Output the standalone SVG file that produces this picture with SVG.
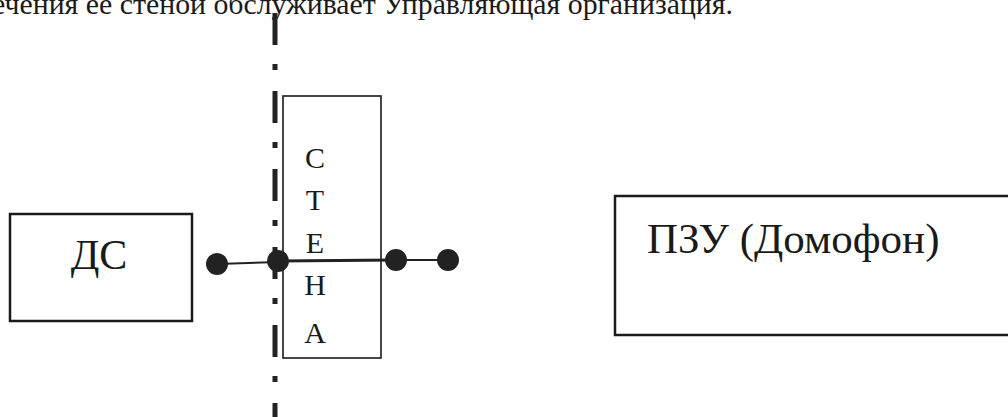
<svg xmlns="http://www.w3.org/2000/svg" width="1008" height="417" viewBox="0 0 1008 417">
<style>
.t{font-family:"Liberation Serif","Times New Roman","DejaVu Serif",serif;fill:#1a1a1a}
.box{fill:none;stroke:#1a1a1a}
.dot{fill:#222}
</style>
<rect width="1008" height="417" fill="#fff"/>
<text class="t" x="-8" y="14" font-size="30" textLength="741" lengthAdjust="spacingAndGlyphs">ечения ее стеной обслуживает Управляющая организация.</text>
<g id="axis">
<line x1="275" y1="13" x2="275" y2="417" stroke="#222" stroke-width="5" stroke-dasharray="32 19 6 21"/>
</g>
<g id="ds">
<rect class="box" x="10" y="214" width="182" height="107" stroke-width="2.5"/>
<text class="t" x="99" y="269" font-size="42" text-anchor="middle">ДС</text>
</g>
<g id="wall">
<rect class="box" x="283" y="96" width="98" height="262" stroke-width="1.6"/>
<g class="t" font-size="30" text-anchor="middle">
<text x="315" y="168">С</text>
<text x="315" y="210">Т</text>
<text x="315" y="253">Е</text>
<text x="315" y="295">Н</text>
<text x="315" y="343">А</text>
</g>
</g>
<g id="pzu">
<rect class="box" x="615" y="196" width="420" height="139" stroke-width="2.5"/>
<text class="t" x="647" y="253" font-size="43">ПЗУ (Домофон)</text>
</g>
<g id="connectors">
<line x1="217" y1="264" x2="278" y2="262" stroke="#222" stroke-width="2"/>
<line x1="278" y1="261" x2="396" y2="260" stroke="#222" stroke-width="3.2"/>
<line x1="396" y1="260" x2="448" y2="260" stroke="#222" stroke-width="2"/>
<circle class="dot" cx="217" cy="264" r="11"/>
<circle class="dot" cx="278" cy="261" r="11"/>
<circle class="dot" cx="396" cy="260" r="11"/>
<circle class="dot" cx="448" cy="260" r="11"/>
</g>
</svg>
